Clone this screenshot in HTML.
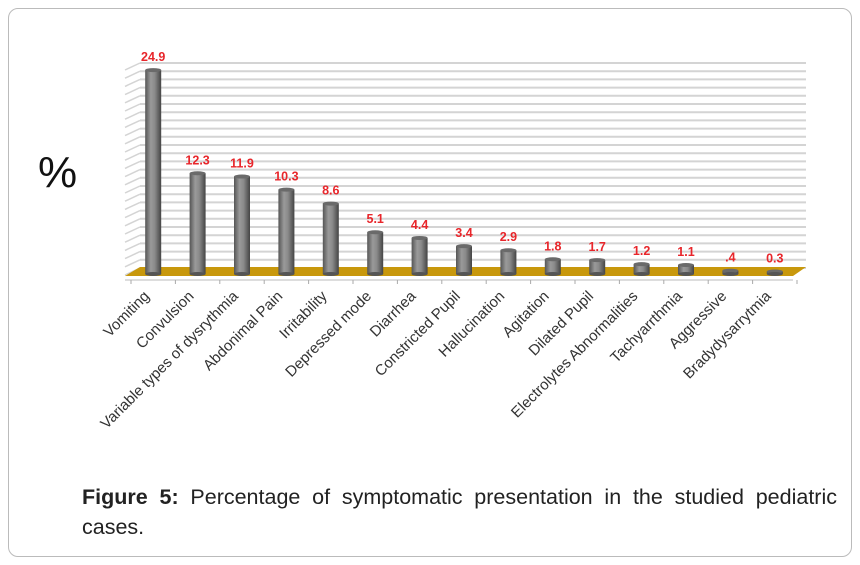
<!DOCTYPE html>
<html><head><meta charset="utf-8"><style>
body{margin:0;background:#fff;width:860px;height:565px;overflow:hidden;font-family:"Liberation Sans",sans-serif}
#frame{position:absolute;left:8px;top:8px;width:842px;height:547px;border:1px solid #bbb;border-radius:10px}
#cap{position:absolute;left:82px;top:482px;width:755px;font-size:21.5px;line-height:30px;color:#222;text-align:justify;text-align-last:left}
</style></head><body>
<div id="frame"></div>
<svg id="chart" width="860" height="480" style="position:absolute;left:0;top:0">
<defs><linearGradient id="bg" x1="0" x2="1"><stop offset="0" stop-color="#555"/><stop offset="0.35" stop-color="#9a9a9a"/><stop offset="0.6" stop-color="#8a8a8a"/><stop offset="1" stop-color="#444"/></linearGradient></defs>
<text x="38" y="187" font-size="44" fill="#111" font-family="Liberation Sans">%</text>
<g id="grid"></g><g id="floor"></g><g id="bars"></g><g id="labels"></g>
</svg>
<div id="cap"><b>Figure 5:</b> Percentage of symptomatic presentation in the studied pediatric cases.</div>
<script>
const categories=["Vomiting","Convulsion","Variable types of dysrythmia","Abdonimal Pain","Irritability","Depressed mode","Diarrhea","Constricted Pupil","Hallucination","Agitation","Dilated Pupil","Electrolytes Abnormalities","Tachyarrthmia","Aggressive","Bradydysarrytmia"];
const values=[24.9,12.3,11.9,10.3,8.6,5.1,4.4,3.4,2.9,1.8,1.7,1.2,1.1,0.4,0.3];
const valueLabels=["24.9","12.3","11.9","10.3","8.6","5.1","4.4","3.4","2.9","1.8","1.7","1.2","1.1",".4","0.3"];
const NS="http://www.w3.org/2000/svg";
function mk(t,a,p){const e=document.createElementNS(NS,t);for(const k in a)e.setAttribute(k,a[k]);p.appendChild(e);return e;}
const x0=131,step=44.4,base=274,scale=8.19;
const xs=i=>x0+step*(i+0.5);
const ys=v=>base-v*scale;
const grid=document.getElementById('grid');
for(let k=0;k<26;k++){const y=63+k*8.2;
 const l=mk('line',{x1:140,x2:806,y1:y,y2:y,stroke:'#d4d4d4','stroke-width':2},grid);
 
 const s=mk('line',{x1:125,x2:140,y1:y+7,y2:y,stroke:'#d4d4d4','stroke-width':1.5},grid);
 }
const fl=document.getElementById('floor');
const f=mk('polygon',{points:'140,267 806,267 793,276 125,276',fill:'#c8980c'},fl);

const ax=mk('line',{x1:125,x2:793,y1:280,y2:280,stroke:'#bbb','stroke-width':1},fl);

for(let i=0;i<=categories.length;i++){const t=mk('line',{x1:x0+step*i,x2:x0+step*i,y1:280,y2:284,stroke:'#aaa'},fl);
 }
const bars=document.getElementById('bars'),labs=document.getElementById('labels');
values.forEach((v,i)=>{const cx=xs(i),y=ys(v),w=16;
 const g=mk('g',{},bars);
 
 
 mk('rect',{x:cx-w/2,y:y,width:w,height:base-y,fill:'url(#bg)'},g);
 mk('ellipse',{cx:cx,cy:y,rx:w/2,ry:2,fill:'#6a6a6a'},g);
 mk('ellipse',{cx:cx,cy:base,rx:w/2,ry:2,fill:'#555'},g);
 const t=mk('text',{x:cx,y:y-9,'text-anchor':'middle','font-size':12.5,'font-weight':'bold',fill:'#e8262b'},labs);
 t.textContent=valueLabels[i];
 
 const c=mk('text',{x:0,y:0,'text-anchor':'end','font-size':15,fill:'#333',transform:`translate(${cx-3},${297}) rotate(-45)`},labs);
 c.textContent=categories[i];
 
});
</script>
</body></html>
